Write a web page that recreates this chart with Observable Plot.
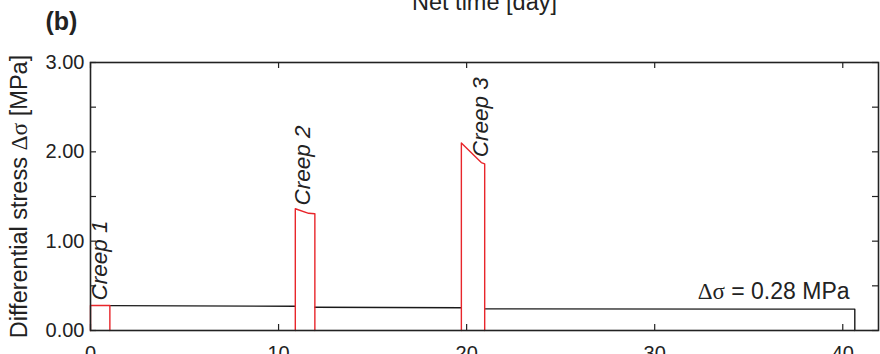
<!DOCTYPE html>
<html><head><meta charset="utf-8">
<script src="https://cdn.jsdelivr.net/npm/d3@7"></script>
<script src="https://cdn.jsdelivr.net/npm/@observablehq/plot@0.6"></script>
<style>html,body{margin:0;padding:0;background:#fff;overflow:hidden}</style>
</head><body><div id="chart"></div>
<script>
// Axis ticks
const xTicks = [0, 10, 20, 30, 40];
const yTicks = [0, 1, 2, 3];
const yMinor = [0, 0.5, 1, 1.5, 2, 2.5, 3];

// Creep stages (red): net time [day] and differential stress [MPa]
const creepX = [
  [0, 0, 1.03, 1.03],
  [10.89, 10.89, 11.6, 11.93, 11.93],
  [19.72, 19.72, 20.78, 20.96, 20.96]
];
const creepY = [
  [0, 0.28, 0.28, 0],
  [0, 1.363, 1.312, 1.307, 0],
  [0, 2.10, 1.88, 1.865, 0]
];
// Holding stages between creeps (black)
const holdX = [
  [1.03, 10.89],
  [11.93, 19.72],
  [20.96, 40.64, 40.64]
];
const holdY = [
  [0.278, 0.272],
  [0.261, 0.254],
  [0.242, 0.239, 0]
];
// Labels
const creepLabels = ["Creep 1", "Creep 2", "Creep 3"];
const creepLabelX = [0.9, 11.65, 21.15];
const creepLabelY = [0.336, 1.40, 1.94];

const toPts = (X, Y) => X.flatMap((xs, i) => xs.map((x, j) => ({x, y: Y[i][j], s: i})));
const redPts = toPts(creepX, creepY);
const blackPts = toPts(holdX, holdY);
const labels = creepLabels.map((t, i) => ({t, x: creepLabelX[i], y: creepLabelY[i]}));

const W = 880, H = 354, mL = 90, mR = 2, mT = 62, mB = 24;
const fw = W - mL - mR, fh = H - mT - mB;
const ink = "#222";
const red = "#e8262b";

const chart = Plot.plot({
  width: W, height: H,
  marginLeft: mL, marginRight: mR, marginTop: mT, marginBottom: mB,
  style: {fontFamily: "'Liberation Sans', Arial, Helvetica, sans-serif", color: ink, background: "#fff"},
  x: {domain: [0, 41.9]},
  y: {domain: [0, 3]},
  marks: [
    Plot.line(blackPts, {x: "x", y: "y", z: "s", stroke: "#1a1a1a", strokeWidth: 1.4}),
    Plot.line(redPts, {x: "x", y: "y", z: "s", stroke: red, strokeWidth: 1.4}),
    Plot.frame({stroke: ink, strokeWidth: 1.6}),
    Plot.tickX(xTicks, {x: d => d, insetTop: fh - 6, stroke: ink, strokeWidth: 1.2}),
    Plot.tickX(xTicks, {x: d => d, insetBottom: fh - 6, stroke: ink, strokeWidth: 1.2}),
    Plot.tickY(yMinor, {y: d => d, insetRight: fw - 6, stroke: ink, strokeWidth: 1.2}),
    Plot.tickY(yMinor, {y: d => d, insetLeft: fw - 6, stroke: ink, strokeWidth: 1.2}),
    Plot.axisX(xTicks, {anchor: "bottom", tickSize: 0, tickPadding: 15, fontSize: 20, label: null, tickFormat: d => String(d)}),
    Plot.axisY(yTicks, {anchor: "left", tickSize: 0, tickPadding: 6, fontSize: 20, label: null, tickFormat: d3.format(".2f")}),
    Plot.text(labels, {x: "x", y: "y", text: "t", rotate: -90, textAnchor: "start", lineAnchor: "bottom", fontStyle: "italic", fontSize: 22.5, fill: ink}),
    Plot.text(["= 0.28 MPa"], {x: 40.36, y: 0.355, text: d => "\u0394\u03c3 " + d, textAnchor: "end", lineAnchor: "bottom", fontSize: 23, fill: ink}),
    Plot.text(["Differential stress \u0394\u03c3 [MPa]"], {frameAnchor: "left", rotate: -90, dx: -80, textAnchor: "middle", lineAnchor: "top", fontSize: 23.5, fill: ink}),
    Plot.text(["Net time [day]"], {frameAnchor: "top", dy: 9.5 - mT, textAnchor: "middle", lineAnchor: "bottom", fontSize: 23.5, fill: ink}),
    Plot.text(["(b)"], {frameAnchor: "top-left", dx: -45, dy: 29 - mT, textAnchor: "start", lineAnchor: "bottom", fontSize: 25, fontWeight: "bold", fill: ink})
  ]
});
document.getElementById("chart").appendChild(chart);

// Render the Greek symbols in a serif face, as in the original figure
d3.select(chart).selectAll("text").each(function() {
  const t = this.textContent;
  if (!t.includes("\u0394\u03c3")) return;
  const [a, b] = t.split("\u0394\u03c3");
  const el = d3.select(this);
  el.text(null);
  if (a) el.append("tspan").text(a);
  el.append("tspan").attr("font-family", "'Liberation Serif', 'Times New Roman', serif").text("\u0394\u03c3");
  if (b) el.append("tspan").text(b);
});
</script>
</body></html>
